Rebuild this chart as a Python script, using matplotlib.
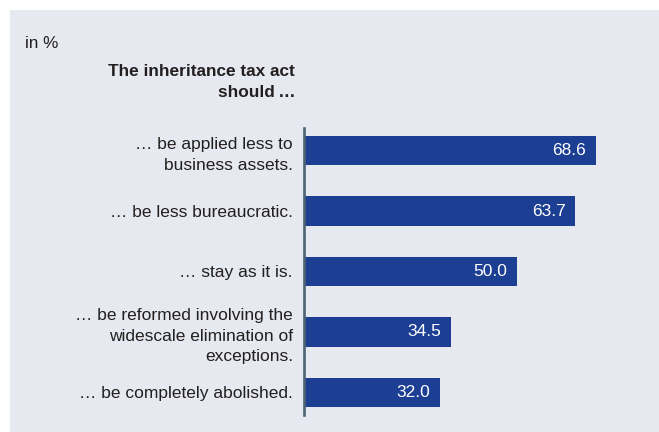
import matplotlib.pyplot as plt
from matplotlib.patches import Rectangle

# Data
categories = ['… be applied less to\nbusiness assets.',
              '… be less bureaucratic.',
              '… stay as it is.',
              '… be reformed involving the\nwidescale elimination of\nexceptions.',
              '… be completely abolished.']
values = [68.6, 63.7, 50.0, 34.5, 32.0]
unit_label = 'in %'
title = 'The inheritance tax act\nshould\u2009…'

bar_color = '#1c3f94'
panel_color = '#e6e9ef'
text_color = '#231f20'

plt.rcParams['font.family'] = ['Liberation Sans', 'DejaVu Sans']

W, H = 659, 432
fig = plt.figure(figsize=(W / 100, H / 100), dpi=100)
fig.patch.set_facecolor('white')

# Grey panel behind everything
fig.patches.append(Rectangle((10 / W, 0), (W - 10) / W, (H - 10) / H,
                             transform=fig.transFigure, facecolor=panel_color,
                             edgecolor='none', zorder=-10))

# Axes placed in pixel terms
left, right = 304, 644
top, bottom = 128, 415
ax = fig.add_axes([left / W, 1 - bottom / H, (right - left) / W, (bottom - top) / H])
ax.set_facecolor('none')

ypos = list(range(len(values)))
bars = ax.barh(ypos, values, height=0.48, color=bar_color, zorder=2)

ax.set_xlim(0, (right - left) / 4.256)
ax.set_ylim(len(values) - 1 + 0.372, -0.372)

ax.set_yticks(ypos)
ax.set_yticklabels(categories, fontsize=12.5, color=text_color, linespacing=1.47)
ax.tick_params(axis='y', length=0, pad=8)
ax.set_xticks([])

for s in ['top', 'right', 'bottom']:
    ax.spines[s].set_visible(False)
ax.spines['left'].set_color('#4d6272')
ax.spines['left'].set_linewidth(1.9)
ax.spines['left'].set_zorder(3)

# Value labels inside bars
for y, v in zip(ypos, values):
    ax.annotate(f'{v:.1f}', xy=(v, y), xytext=(-7, 0), textcoords='offset points',
                ha='right', va='center', color='white', fontsize=12.5, zorder=4)

# Header texts
fig.text(25 / W, 1 - 44 / H, unit_label, ha='left', va='center',
         fontsize=12.3, color=text_color)
fig.text(295 / W, 1 - 82 / H, title, ha='right', va='center',
         fontsize=12.4, fontweight='bold', color=text_color, linespacing=1.47)

fig.savefig('out.png', dpi=100)
